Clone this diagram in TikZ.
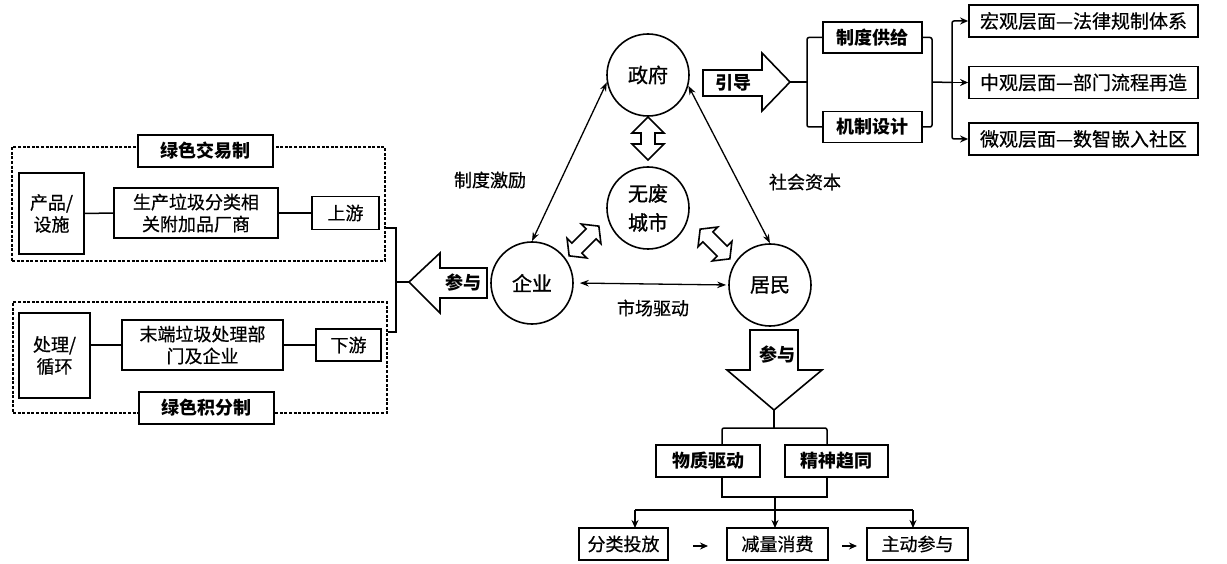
\documentclass[tikz,border=0pt]{standalone}
\usepackage{fontspec}
\setmainfont{Noto Sans CJK SC}[UprightFeatures={FakeBold=0.6}]
\newfontfamily\cmed{Noto Sans CJK SC}[FakeBold=1.2]
\usetikzlibrary{arrows.meta,calc}
\begin{document}
\begin{tikzpicture}[x=1pt,y=-1pt,
  every node/.style={font=\fontsize{18}{22}\selectfont, inner sep=0pt, align=center},
  box/.style={draw, line width=1.8pt, fill=white},
  bbox/.style={box, font=\fontsize{18}{22}\selectfont\bfseries},
  rbox/.style={box, font=\fontsize{19}{22}\selectfont, minimum width=229pt, minimum height=32pt},
  circ/.style={draw, circle, line width=1.6pt, minimum size=82pt, font=\fontsize{20}{29}\selectfont\cmed},
  ln/.style={line width=1.5pt},
  dbl/.style={line width=1.3pt, {Stealth[length=9pt,width=6.5pt]}-{Stealth[length=9pt,width=6.5pt]}},
  arr/.style={line width=1.5pt, -{Stealth[length=8pt,width=7pt]}},
  dbox/.style={draw, dash pattern=on 3pt off 1.6pt, line width=1.6pt},
  fat/.style={line width=1.6pt, fill=white, line join=miter},
  lab/.style={font=\fontsize{18}{22}\selectfont}
]
\useasboundingbox (0,0) rectangle (1227,564);

% ---------- circles ----------
\node[circ] (zf) at (648,75) {政府};
\node[circ] (wf) at (648,208) {无废\\城市};
\node[circ] (qy) at (532,283) {企业};
\node[circ] (jm) at (770,285) {居民};

\draw[dbl] (zf.190) -- (qy.90);
\draw[dbl] (zf.-15) -- (jm.90);
\draw[dbl, shorten <=6pt, shorten >=2pt] (qy.east) -- (jm.west);

\node[lab] (l1) at (490,180) {制度激励};
\node[lab] (l2) at (805,182) {社会资本};
\node[lab] (l3) at (653,308) {市场驱动};

% fat double arrows
\newcommand{\fatdbl}[7]{% x,y,angle,L,W,h,s
  \begin{scope}[shift={(#1,#2)},rotate=#3]
    \draw[fat] ({-#4/2},0) -- ({-#4/2+#6},{#5/2}) -- ({-#4/2+#6},{#7/2}) -- ({#4/2-#6},{#7/2})
      -- ({#4/2-#6},{#5/2}) -- ({#4/2},0) -- ({#4/2-#6},{-#5/2}) -- ({#4/2-#6},{-#7/2})
      -- ({-#4/2+#6},{-#7/2}) -- ({-#4/2+#6},{-#5/2}) -- cycle;
  \end{scope}}
\fatdbl{648}{138.5}{90}{43}{32}{16}{14}
\fatdbl{584}{241}{45}{42}{28}{11}{14}
\fatdbl{715}{244}{-45}{42}{28}{11}{14}

% ---------- left part ----------
\node[dbox, minimum width=373pt, minimum height=114pt] (topd) at (198.5,204) {};
\node[dbox, minimum width=374pt, minimum height=111pt] (botd) at (200,357.5) {};
\node[bbox, minimum width=135pt, minimum height=32pt] (g1) at (205.5,151) {绿色交易制};
\node[bbox, minimum width=135pt, minimum height=32pt] (g2) at (206.5,408) {绿色积分制};

\node[box, minimum width=65pt, minimum height=81pt] (cp) at (51.5,213.5) {产品/\\设施};
\node[box, minimum width=164pt, minimum height=50pt] (sc) at (196,213) {生产垃圾分类相\\关附加品厂商};
\node[box, minimum width=67pt, minimum height=33pt] (sy) at (345.5,213) {上游};
\draw[ln] (cp.east) -- (sc.west);
\draw[ln] (sc.east) -- (sy.west);

\node[box, minimum width=71pt, minimum height=85pt] (cl) at (54.5,355.5) {处理/\\循环};
\node[box, minimum width=161pt, minimum height=50pt] (md) at (202.5,345) {末端垃圾处理部\\门及企业};
\node[box, minimum width=65pt, minimum height=32pt] (xy) at (348.5,345) {下游};
\draw[ln] (cl.east |- md.west) -- (md.west);
\draw[ln] (md.east) -- (xy.west);

\coordinate (bj) at (396,282);
\coordinate (lt) at (409,282);
\draw[ln] ($(topd.east)+(0,24)$) -| (bj) |- ($(botd.east)+(0,-25.5)$);
\draw[ln] (bj) -- (lt);

% left 参与 arrow
\draw[fat] (409,282) -- (440,253) -- (440,268) -- (487,268) -- (487,298) -- (440,298) -- (440,313) -- cycle;
\node[font=\fontsize{18}{22}\selectfont\bfseries] (cy1) at (463,283) {参与};

% ---------- top right ----------
\draw[fat] (703,70) -- (762,70) -- (762,53) -- (790,82) -- (762,111) -- (762,96) -- (703,96) -- cycle;
\node[font=\fontsize{18}{22}\selectfont\bfseries] (yd) at (733,83) {引导};
\coordinate (yt) at (790,82);

\node[bbox, minimum width=99pt, minimum height=31pt] (zd) at (872.5,37.5) {制度供给};
\node[bbox, minimum width=99pt, minimum height=31pt] (jz) at (872.5,127) {机制设计};
\coordinate (bk1) at (807,82);
\draw[ln] (yt) -- (bk1);
\draw[ln, rounded corners=2pt] (zd.west) -| (bk1) |- (jz.west);

\node[rbox] (hg) at (1083.5,21) {宏观层面—法律规制体系};
\node[rbox] (zg) at (1083.5,82.5) {中观层面—部门流程再造};
\node[rbox] (wg) at (1083.5,139) {微观层面—数智嵌入社区};

\coordinate (bk2) at (932,82);
\coordinate (bk3) at (952,82.5);
\draw[ln, rounded corners=2pt] (zd.east) -| (bk2) |- (jz.east);
\draw[ln] (bk2) -- (bk3);
\draw[arr, rounded corners=2pt] (bk3) |- (hg.west);
\draw[arr] (bk3) -- (zg.west);
\draw[arr, rounded corners=2pt] (bk3) |- (wg.west);

% ---------- bottom ----------
\draw[fat] (750,330) -- (798,330) -- (798,370) -- (822,370) -- (774,410) -- (727,370) -- (750,370) -- cycle;
\node[font=\fontsize{18}{22}\selectfont\bfseries] (cy2) at (777,355) {参与};
\coordinate (dt) at (774,410);
\coordinate (dj) at (774,428);

\node[bbox, minimum width=104pt, minimum height=32pt] (wz) at (708,461) {物质驱动};
\node[bbox, minimum width=103pt, minimum height=32pt] (js) at (836.5,461) {精神趋同};
\draw[ln] (dt) -- (dj);
\draw[ln, rounded corners=2pt] (722,445) |- (dj) -| (827,445);

\node[box, minimum width=89pt, minimum height=32pt] (fl) at (623.5,544) {分类投放};
\node[box, minimum width=101pt, minimum height=32pt] (jl) at (777.5,544) {减量消费};
\node[box, minimum width=101pt, minimum height=32pt] (zc) at (917.5,544) {主动参与};

\coordinate (uj) at (775,497);
\coordinate (hj) at (775,510);
\draw[ln] (722,477) |- (uj) -| (827,477);
\draw[ln] (uj) -- (hj);
\draw[ln] (635,510) -- (913,510);
\draw[arr] (635,510) -- (635,528);
\draw[arr] (hj) -- (775,528);
\draw[arr] (913,510) -- (913,528);

\draw[arr, line width=1.3pt] (693,546) -- (708,546);
\draw[arr, line width=1.3pt] (842,546) -- (857,546);
\end{tikzpicture}
\end{document}
